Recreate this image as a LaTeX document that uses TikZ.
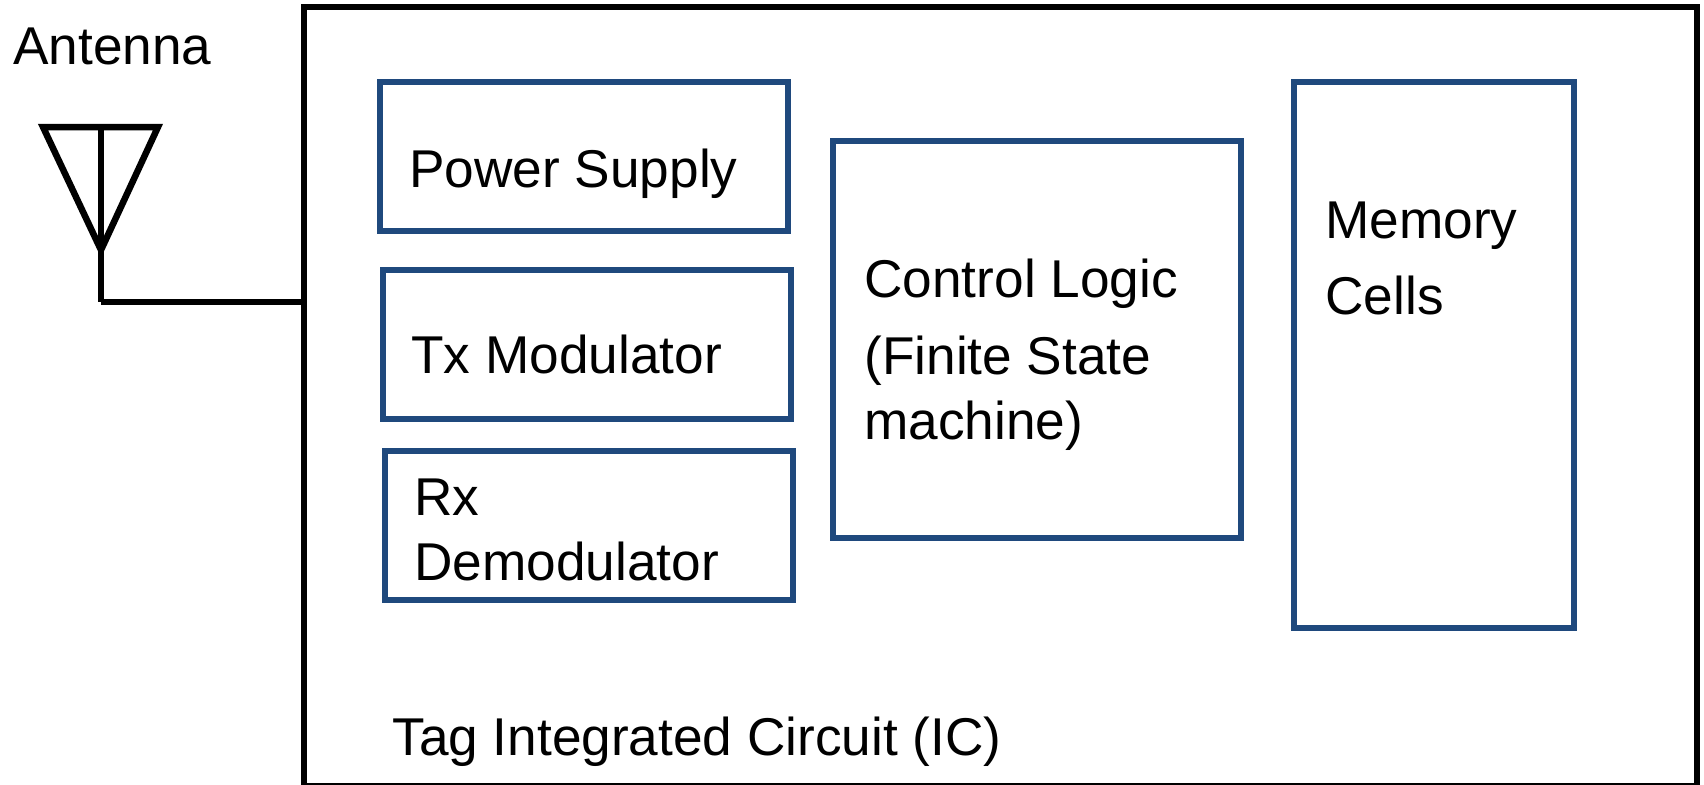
\documentclass[tikz,border=0pt]{standalone}
\usepackage{fontspec}
\setmainfont{Liberation Sans}
\definecolor{boxblue}{HTML}{1F497D}

\begin{document}
\begin{tikzpicture}[x=0.5pt, y=-0.5pt]
    \def\ux{0.5pt}

    % --- DEFINE STYLES ---
    % Style for the blue blocks inside the chip
    \tikzstyle{blockbox} = [rectangle, draw=boxblue, line width=6*\ux, inner sep=0pt, outer sep=0pt, anchor=north west]
    % Style for the chip outline
    \tikzstyle{chipbox} = [rectangle, draw=black, line width=6.5*\ux, inner sep=0pt, outer sep=0pt, anchor=north west]
    % Style for the black antenna lines
    \tikzstyle{wire} = [draw=black, line width=6.5*\ux]
    % Style for all labels
    \tikzstyle{lbl} = [inner sep=0pt, anchor=base west, align=left, font=\fontsize{26.6}{32.5}\selectfont]

    \useasboundingbox (0,0) rectangle (1704,784);

    % Chip outline
    \node[chipbox, minimum width=1393*\ux, minimum height=779*\ux] (tagic) at (304,7) {};

    % --- BLOCKS ---
    \node[blockbox, minimum width=408*\ux, minimum height=149*\ux] (power) at (380,82) {};
    \node[blockbox, minimum width=408*\ux, minimum height=149*\ux] (txmod) at (383,270) {};
    \node[blockbox, minimum width=408*\ux, minimum height=149*\ux] (rxdem) at (385,451) {};
    \node[blockbox, minimum width=408*\ux, minimum height=397*\ux] (ctrl) at (833,141) {};
    \node[blockbox, minimum width=280*\ux, minimum height=546*\ux] (mem) at (1294,82) {};

    % --- LABELS ---
    \node[lbl] (antlabel) at (13,64) {Antenna};
    \node[lbl] (powerlabel) at (409,187) {Power Supply};
    \node[lbl] (txlabel) at (411,373) {Tx Modulator};
    \node[lbl] (rxlabel) at (414,580) {Rx\\Demodulator};
    \node[lbl] (ctrllabel) at (864,439) {Control Logic\\[6pt](Finite State\\machine)};
    \node[lbl] (memlabel) at (1325,314) {Memory\\[5.5pt]Cells};
    \node[lbl] (taglabel) at (392,755) {Tag Integrated Circuit (IC)};

    % --- ANTENNA ---
    \coordinate (antleft) at (43,127);
    \coordinate (antright) at (158,127);
    \coordinate (anttop) at (101,127);
    \coordinate (antapex) at (101,250);
    \coordinate (antfoot) at (101,302);

    \draw[wire] (antleft) -- (antright) -- (antapex) -- cycle;
    \draw[wire] (anttop) -- (antfoot);
    \draw[wire] (antfoot) -- (antfoot -| tagic.west);
\end{tikzpicture}
\end{document}
